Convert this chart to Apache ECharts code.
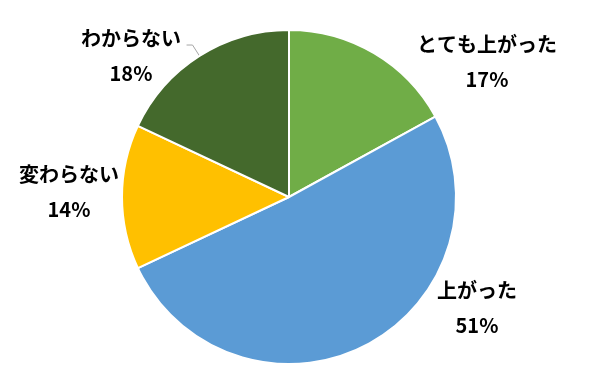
<!DOCTYPE html>
<html>
<head>
<meta charset="utf-8">
<script src="https://cdn.jsdelivr.net/npm/echarts@6/dist/echarts.min.js"></script>
<style>
html,body{margin:0;padding:0;background:#fff;}
#chart{width:600px;height:383px;}
</style>
</head>
<body>
<div id="chart"></div>
<script>
const categories = ['とても上がった', '上がった', '変わらない', 'わからない'];
const values = [17, 51, 14, 18];
const colors = ['#70AD47', '#5B9BD5', '#FFC000', '#44692C'];
// label block centres (layout only)
const labelPos = [[487, 62], [477, 308], [69, 192], [131, 56]];

const chart = echarts.init(document.getElementById('chart'), null, {renderer: 'canvas'});
chart.setOption({
  backgroundColor: '#ffffff',
  animation: false,
  series: [{
    type: 'pie',
    center: [289, 197],
    radius: 167,
    startAngle: 90,
    clockwise: true,
    data: categories.map((c, i) => ({
      name: c,
      value: values[i],
      itemStyle: {color: colors[i]},
      labelLine: {show: i === 3}
    })),
    itemStyle: {borderColor: '#ffffff', borderWidth: 2},
    label: {
      show: true,
      position: 'outside',
      overflow: 'none',
      edgeDistance: 0,
      formatter: p => '{n|' + p.name + '}\n{v|' + p.value + '%}',
      rich: {
        n: {fontFamily: '"Noto Sans CJK JP"', fontWeight: 'bold', fontSize: 20, color: '#000', lineHeight: 35, align: 'center'},
        v: {fontFamily: '"Noto Sans CJK JP"', fontWeight: 'bold', fontSize: 20, color: '#000', lineHeight: 35, align: 'center'}
      }
    },
    labelLine: {
      show: false,
      length: 13,
      length2: 6,
      smooth: false,
      lineStyle: {color: '#A6A6A6', width: 1}
    },
    labelLayout: function (params) {
      const p = labelPos[params.dataIndex];
      return {
        x: p[0], y: p[1], align: 'center', verticalAlign: 'middle',
        labelLinePoints: params.labelLinePoints
      };
    }
  }]
});
</script>
</body>
</html>
